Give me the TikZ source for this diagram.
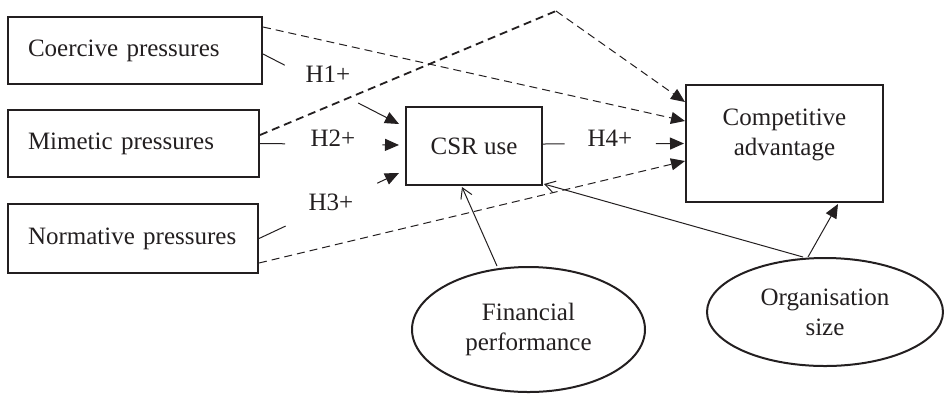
\documentclass[tikz,border=0pt]{standalone}
\usepackage{fontspec}
\setmainfont{Liberation Serif}
\usetikzlibrary{calc,arrows.meta,shapes.geometric}
\definecolor{ink}{RGB}{35,31,32}
\begin{document}
\begin{tikzpicture}[x=0.5pt,y=-0.5pt,
  every node/.style={text=ink, font=\fontsize{12.5}{15}\selectfont},
  varbox/.style={draw=ink, line width=1pt, rectangle, inner sep=0pt},
  leftbox/.style={varbox, align=left, inner xsep=10pt},
  oval/.style={draw=ink, line width=1pt, ellipse, inner sep=0pt, align=center},
  link/.style={draw=ink, line width=0.5pt},
  tri/.style={-{Triangle[length=7pt,width=6pt]}},
  barb/.style={-{Straight Barb[length=5pt,width=6pt]}},
  dashlink/.style={link, dash pattern=on 4pt off 2.5pt},
  hyp/.style={inner sep=0pt}
]
\useasboundingbox (0,0) rectangle (944,393);

% boxes
\node[leftbox, text width=107pt, minimum width=127pt, minimum height=33.5pt] (coe) at (135,50.5) {Coercive pressures};
\node[leftbox, text width=105.5pt, minimum width=125.5pt, minimum height=33.5pt] (mim) at (133.5,143.5) {Mimetic pressures};
\node[leftbox, text width=105pt, minimum width=125pt, minimum height=34.5pt] (nor) at (133,238.5) {Normative pressures};
\node[varbox, minimum width=68pt, minimum height=39pt] (csr) at (474,146) {CSR use};
\node[varbox, align=center, minimum width=98.5pt, minimum height=58.5pt] (ca) at (784.5,143.5) {Competitive\\advantage\rule[-11pt]{0pt}{1pt}};

% ellipses
\node[oval, minimum width=116.5pt, minimum height=62.5pt] (fin) at (528.5,329.5) {Financial\\performance};
\node[oval, minimum width=118pt, minimum height=54pt] (org) at (825,312) {Organisation\\size};

% dashed links to competitive advantage
\coordinate (peak) at (556,11);
\draw[dashlink, tri] ($(coe.north east)+(0,11)$) -- ($(ca.north west)+(0,37)$);
\draw[dashlink, line width=0.9pt] ($(mim.east)+(0,-8.5)$) -- (peak);
\draw[dashlink, tri] (peak) -- ($(ca.north west)+(0,18)$);
\draw[dashlink, tri] ($(nor.south east)+(0,-11)$) -- ($(ca.north west)+(0,77)$);

% hypotheses H1-H3
\coordinate (h1s) at ($(coe.east)+(0,3.5)$);
\coordinate (h1e) at ($(csr.north west)+(-6,18)$);
\draw[link] (h1s) -- ($(h1s)!0.16!(h1e)$);
\draw[link, tri] ($(h1s)!0.70!(h1e)$) -- (h1e);
\node[hyp] (l1) at (328,74) {H1+};

\coordinate (h2s) at (mim.east);
\coordinate (h2e) at ($(csr.west)+(-6,-1)$);
\draw[link] (h2s) -- ($(h2s)!0.18!(h2e)$);
\draw[link, tri] ($(h2s)!0.88!(h2e)$) -- (h2e);
\node[hyp] (l2) at (333,138.5) {H2+};

\coordinate (h3s) at (nor.east);
\coordinate (h3e) at ($(csr.south west)+(-6,-13)$);
\draw[link] (h3s) -- ($(h3s)!0.19!(h3e)$);
\draw[link, tri] ($(h3s)!0.845!(h3e)$) -- (h3e);
\node[hyp] (l3) at (331,202) {H3+};

% H4
\coordinate (h4s) at ($(csr.east)+(0,-2)$);
\coordinate (h4e) at ($(ca.west)+(-1,0)$);
\draw[link] (h4s) -- ($(h4s)!0.154!(h4e)$);
\draw[link, tri] ($(h4s)!0.80!(h4e)$) -- (h4e);
\node[hyp] (l4) at (610,138.5) {H4+};

% control variables
\draw[link, barb] ($(fin.north)+(-31.5,0)$) -- ($(csr.south)+(-12,1)$);
\draw[link, barb] ($(org.north)+(-22,0)$) -- ($(csr.south east)+(1,-2)$);
\draw[link, tri] ($(org.north)+(-17,0)$) -- ($(ca.south)+(53.5,1)$);
\end{tikzpicture}
\end{document}
